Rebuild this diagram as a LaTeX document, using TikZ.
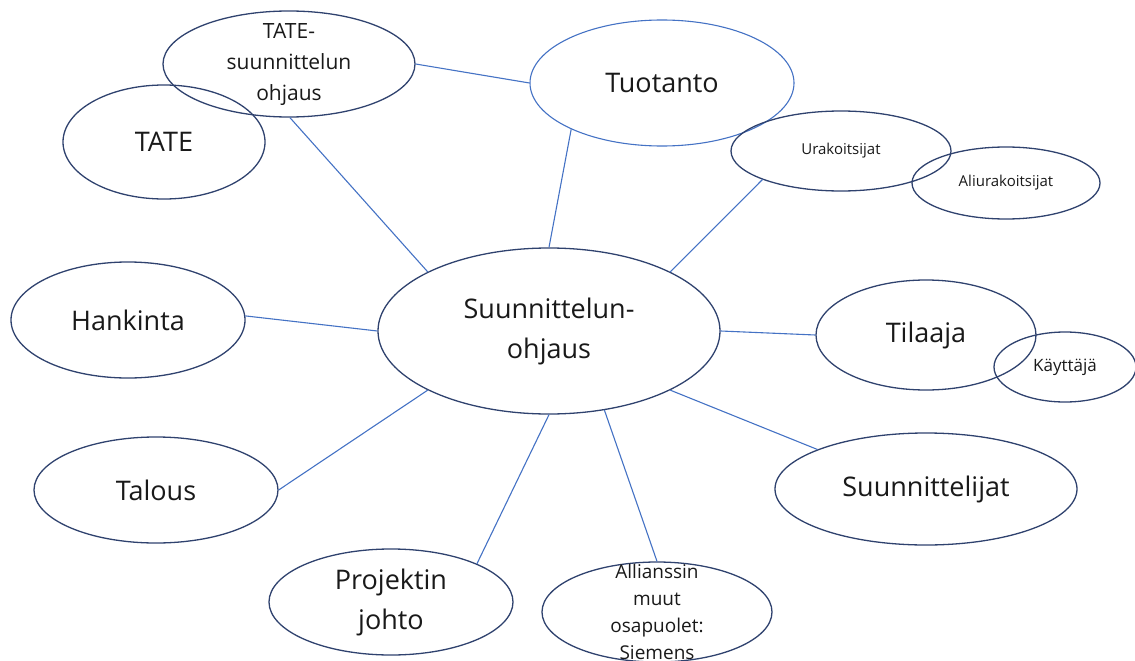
\documentclass[tikz,border=0pt]{standalone}
\usepackage{fontspec}
\setmainfont{Open Sans}
\usepackage{tikz}
\usetikzlibrary{shapes.geometric}
\usepackage{xcolor}
\definecolor{ringblue}{RGB}{47,66,110}
\definecolor{linkblue}{RGB}{68,114,196}

\begin{document}
\begin{tikzpicture}[
    x=1pt, y=-1pt,
    bubble/.style={ellipse, draw=ringblue, line width=1.3pt, inner sep=0pt},
    lightbubble/.style={bubble, draw=linkblue, line width=1.1pt},
    bigtext/.style={font=\fontsize{27}{40}\selectfont, align=center, text=black!90},
    midtext/.style={font=\fontsize{21}{31}\selectfont, align=center, text=black!90},
    smalltext/.style={font=\fontsize{19}{27}\selectfont, align=center, text=black!90},
    tinytext/.style={font=\fontsize{15}{18}\selectfont, align=center, text=black!90},
    link/.style={draw=linkblue, line width=1.1pt},
]
    \useasboundingbox (0,0) rectangle (1135,661);

    % Central bubble
    \node[bubble, minimum width=342, minimum height=166, label={[bigtext]center:Suunnittelun-\\ohjaus}] (ohjaus) at (549,331) {};

    % Top row
    \node[bubble, minimum width=252, minimum height=106, label={[midtext]center:TATE-\\suunnittelun\\ohjaus}] (tateohj) at (289,64) {};
    \node[bubble, minimum width=202, minimum height=114, label={[bigtext]center:TATE}] (tate) at (164,142) {};
    \node[lightbubble, minimum width=264, minimum height=126, label={[bigtext]center:Tuotanto}] (tuotanto) at (662,83) {};
    \node[bubble, minimum width=220, minimum height=80, label={[tinytext]center:Urakoitsijat}] (urak) at (841,151) {};
    \node[bubble, minimum width=188, minimum height=72, label={[tinytext]center:Aliurakoitsijat}] (aliurak) at (1006,183) {};

    % Left side
    \node[bubble, minimum width=234, minimum height=116, label={[bigtext]center:Hankinta}] (hankinta) at (128,320) {};
    \node[bubble, minimum width=244, minimum height=106, label={[bigtext]center:Talous}] (talous) at (156,490) {};

    % Right side
    \node[bubble, minimum width=220, minimum height=110, label={[bigtext]center:Tilaaja}] (tilaaja) at (926,335) {};
    \node[bubble, minimum width=142, minimum height=70, label={[font=\fontsize{17}{20}\selectfont, text=black!90]center:Käyttäjä}] (kayttaja) at (1065,367) {};
    \node[bubble, minimum width=302, minimum height=112, label={[bigtext]center:Suunnittelijat}] (suunnittelijat) at (926,489) {};

    % Bottom row
    \node[bubble, minimum width=244, minimum height=106, label={[bigtext]center:Projektin\\johto}] (projektin) at (391,602) {};
    \node[bubble, minimum width=230, minimum height=100, label={[smalltext]center:Allianssin\\muut\\osapuolet:\\Siemens}] (allianssi) at (657,612) {};

    % Connectors
    \draw[link] (tateohj.-89) -- (ohjaus.154);
    \draw[link] (tateohj.0) -- (tuotanto.180);
    \draw[link] (tuotanto.-153) -- (ohjaus.90);
    \draw[link] (urak.-160) -- (ohjaus.26);
    \draw[link] (hankinta.2) -- (ohjaus.180);
    \draw[link] (ohjaus.0) -- (tilaaja.180);
    \draw[link] (ohjaus.-26) -- (suunnittelijat.160);
    \draw[link] (ohjaus.206) -- (talous.0);
    \draw[link] (ohjaus.-90) -- (projektin.24);
    \draw[link] (ohjaus.-55) -- (allianssi.90);
\end{tikzpicture}
\end{document}
